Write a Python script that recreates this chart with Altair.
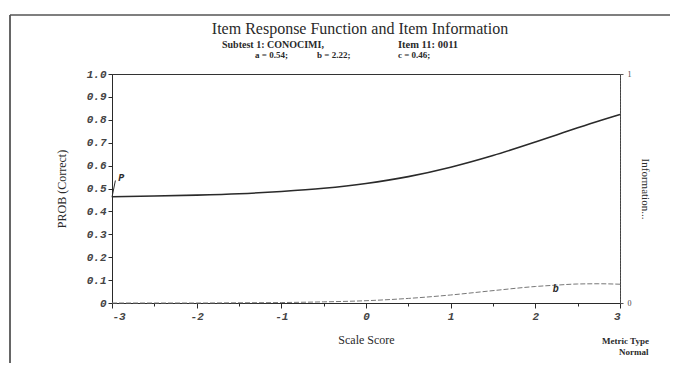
import altair as alt
import pandas as pd

# ---- data ----
theta = [-3, -2.5, -2, -1.5, -1, -0.5, 0, 0.5, 1, 1.5, 2, 2.25, 2.5, 2.75, 3]
prob = [0.464, 0.467, 0.471, 0.477, 0.487, 0.501, 0.522, 0.552, 0.593, 0.644, 0.703,
        0.734, 0.765, 0.795, 0.823]
info = [0.000, 0.000, 0.000, 0.001, 0.002, 0.005, 0.010, 0.020, 0.035, 0.054, 0.072,
        0.078, 0.083, 0.084, 0.082]

x_ticks = [-3, -2.5, -2, -1.5, -1, -0.5, 0, 0.5, 1, 1.5, 2, 2.5, 3]
y_ticks = [0, 0.1, 0.2, 0.3, 0.4, 0.5, 0.6, 0.7, 0.8, 0.9, 1.0]
info_ticks = [0, 1]

p_label_x = [-2.95]
p_label_y = [0.545]
p_leader_x = [-3.0]
p_leader_x2 = [-2.96]
p_leader_y = [0.462]
p_leader_y2 = [0.535]
b_label_x = [2.24]
b_label_y = [0.062]

title_text = "Item Response Function and Item Information"
sub_texts = ["Subtest 1: CONOCIMI,", "Item 11: 0011", "a = 0.54;", "b = 2.22;", "c = 0.46;"]

df = pd.DataFrame({"theta": theta, "prob": prob, "info": info})
one = pd.DataFrame({"k": [0]})

INK = "#2a2a2a"
MONO = "Liberation Mono"
SERIF = "Liberation Serif"

xscale = alt.Scale(domain=[-3, 3], nice=False, zero=False)
yscale = alt.Scale(domain=[0, 1], nice=False)
iscale = alt.Scale(domain=[0, 1], nice=False)

x_axis = alt.Axis(
    values=x_ticks,
    labelExpr="datum.value % 1 === 0 ? '' + datum.value : ''",
    tickSize={"condition": {"test": "datum.value % 1 === 0", "value": 5}, "value": 3},
    labelFont=MONO, labelFontStyle="italic", labelFontWeight="bold", labelFontSize=11,
    labelColor="#444", labelPadding=2,
    title="Scale Score", titleFont=SERIF, titleFontWeight="normal", titleFontSize=12,
    titleColor=INK, titlePadding=13,
    domainColor=INK, tickColor=INK, grid=False,
)
y_axis = alt.Axis(
    values=y_ticks,
    labelExpr="datum.value == 0 ? '0' : format(datum.value, '.1f')",
    tickSize=4, labelOverlap=False,
    labelFont=MONO, labelFontStyle="italic", labelFontWeight="bold", labelFontSize=11,
    labelColor="#444", labelPadding=2,
    title="PROB (Correct)", titleFont=SERIF, titleFontWeight="normal", titleFontSize=12,
    titleColor=INK, titlePadding=18,
    domainColor=INK, tickColor=INK, grid=False, orient="left",
)
info_axis = alt.Axis(
    values=info_ticks, tickSize=3, orient="right",
    labelExpr="'' + datum.value",
    labelFont=SERIF, labelFontSize=8, labelColor="#444", labelPadding=4,
    title="Information...", titleFont=SERIF, titleFontWeight="normal", titleFontSize=11,
    titleColor=INK, titleAngle=90, titlePadding=8,
    domainColor="#555", domainDash=[2, 1], tickColor="#555", grid=False,
)

X = lambda f: alt.X(f, scale=xscale, axis=x_axis)
Y = lambda f: alt.Y(f, scale=yscale, axis=y_axis)
YI = lambda f: alt.Y(f, scale=iscale, axis=info_axis)

base = alt.Chart(df)

prob_line = base.mark_line(color=INK, strokeWidth=1.6, interpolate="monotone").encode(
    x=X("theta:Q"), y=Y("prob:Q"),
)

lead_df = pd.DataFrame({"theta": p_leader_x, "x2": p_leader_x2, "prob": p_leader_y, "y2": p_leader_y2})
p_leader = alt.Chart(lead_df).mark_rule(color=INK, strokeWidth=1).encode(
    x=X("theta:Q"), x2="x2:Q", y=Y("prob:Q"), y2="y2:Q"
)
p_text = alt.Chart(pd.DataFrame({"theta": p_label_x, "prob": p_label_y})).mark_text(
    text="P", font=MONO, fontStyle="italic", fontWeight="bold", fontSize=10,
    color=INK, align="left", baseline="middle", dx=2,
).encode(x=X("theta:Q"), y=Y("prob:Q"))

frame_left = alt.Chart(one).mark_rule(color="#333", strokeWidth=1.5).encode(
    x=alt.value(-102), y=alt.value(-59), y2=alt.value(300)
)
frame_top = alt.Chart(one).mark_rule(color="#555", strokeWidth=1.5).encode(
    x=alt.value(-102), x2=alt.value(570), y=alt.value(-59)
)

def label(txt, x, y, size, weight="normal", font=SERIF, align="left"):
    return alt.Chart(one).mark_text(
        text=txt, font=font, fontSize=size, fontWeight=weight, color=INK,
        align=align, baseline="alphabetic",
    ).encode(x=alt.value(x), y=alt.value(y))

title_m = label(title_text, 248, -40, 16, align="center")
sub_a = label(sub_texts[0], 110, -26, 10, weight=600)
sub_b = label(sub_texts[1], 286, -26, 10.5, weight=600)
sub_c = label(sub_texts[2], 143, -16, 9, weight=600)
sub_d = label(sub_texts[3], 205, -16, 9, weight=600)
sub_e = label(sub_texts[4], 286, -16, 9, weight=600)
metric1 = label("Metric Type", 490, 270, 9, weight="bold")
metric2 = label("Normal", 507, 281, 9, weight="bold")

left_layer = alt.layer(prob_line, p_leader, p_text, frame_left, frame_top,
                       title_m, sub_a, sub_b, sub_c, sub_d, sub_e, metric1, metric2)

info_line = base.mark_line(color="#777", strokeWidth=1, strokeDash=[5, 2],
                           interpolate="monotone").encode(
    x=X("theta:Q"), y=YI("info:Q"),
)
b_text = alt.Chart(pd.DataFrame({"theta": b_label_x, "info": b_label_y})).mark_text(
    text="b", font=MONO, fontStyle="italic", fontWeight="bold", fontSize=10,
    color=INK, baseline="middle",
).encode(x=X("theta:Q"), y=YI("info:Q"))

right_layer = alt.layer(info_line, b_text)

chart = alt.layer(left_layer, right_layer).resolve_scale(y="independent").properties(
    width=508,
    height=229,
    autosize=alt.AutoSizeParams(type="none"),
    padding={"left": 104, "top": 66, "right": 50, "bottom": 60},
    background="white",
).configure_view(stroke="#333", strokeWidth=1)

chart.save("out.html", embed_options={"renderer": "svg", "actions": False})
